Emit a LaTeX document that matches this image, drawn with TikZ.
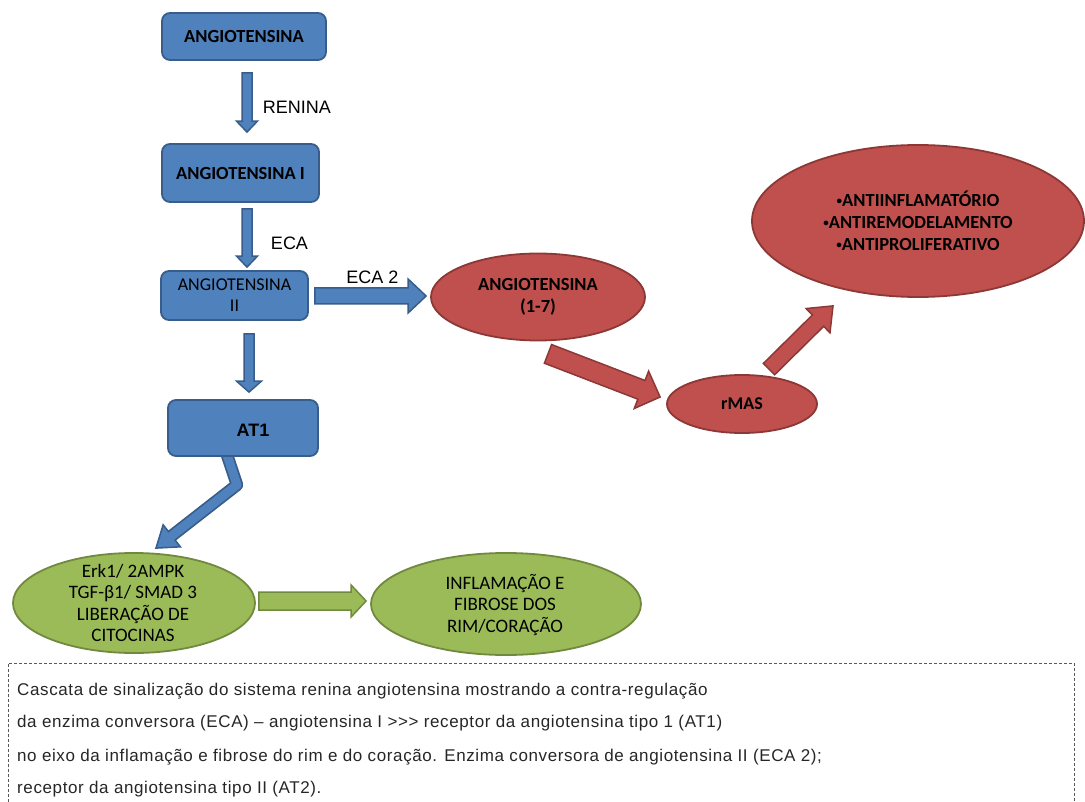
\documentclass[tikz,border=0pt]{standalone}
\usepackage{fontspec}
\setmainfont{Carlito}
\newfontfamily\arialf{Liberation Sans}
\newfontfamily\capfont[LetterSpace=3.6]{Liberation Sans}
\usetikzlibrary{calc,backgrounds,shapes.geometric}
\definecolor{bfill}{HTML}{4F81BD}
\definecolor{bdraw}{HTML}{385D8A}
\definecolor{rfill}{HTML}{C0504D}
\definecolor{rdraw}{HTML}{8C3836}
\definecolor{gfill}{HTML}{9BBB59}
\definecolor{gdraw}{HTML}{71893F}
\definecolor{dashc}{HTML}{595959}
% block arrow: style, from, to, half shaft, half head, head length
\newcommand\blockarrow[6]{%
  \path coordinate (baA) at (#2) coordinate (baB) at (#3);
  \path coordinate (baH) at ($(baB)!#6!(baA)$);
  \draw[#1] ($(baA)!#4!90:(baB)$) -- ($(baH)!#4!90:(baB)$) -- ($(baH)!#5!90:(baB)$)
    -- (baB) -- ($(baH)!#5!-90:(baB)$) -- ($(baH)!#4!-90:(baB)$) -- ($(baA)!#4!-90:(baB)$) -- cycle;
}
\newcommand\sbul{\raisebox{2.5pt}{\fontsize{11}{11}\selectfont•}}
\begin{document}
\begin{tikzpicture}[x=1pt,y=-1pt,
  bbox/.style={draw=bdraw, fill=bfill, line width=1.8pt, rounded corners=8pt, inner sep=0pt,
    text=black, align=center, font=\bfseries\fontsize{18.5}{21}\selectfont},
  rell/.style={ellipse, draw=rdraw, fill=rfill, line width=1.8pt, inner sep=0pt,
    text=black, align=center, font=\bfseries\fontsize{18.5}{22}\selectfont},
  gell/.style={ellipse, draw=gdraw, fill=gfill, line width=1.8pt, inner sep=0pt},
  gtext/.style={text=black, align=center, font=\fontsize{19}{21.5}\selectfont},
  lbl/.style={text=black, font=\arialf\fontsize{18}{21}\selectfont},
  barr/.style={draw=bdraw, fill=bfill, line width=1.5pt, line join=miter},
  rarr/.style={draw=rdraw, fill=rfill, line width=1.5pt, line join=miter},
  garr/.style={draw=gdraw, fill=gfill, line width=1.5pt, line join=miter},
  captext/.style={anchor=base west, inner sep=0pt, text=black!85, font=\capfont\fontsize{17}{20}\selectfont},
  capframe/.style={draw=dashc, line width=0.8pt, dash pattern=on 3pt off 2pt}]
\useasboundingbox (0,0) rectangle (1085,802);
\clip (0,0) rectangle (1085,802);

% blue boxes
\node[bbox, minimum width=164pt, minimum height=47pt] (b1) at (244,36.5) {ANGIOTENSINA};
\node[bbox, minimum width=157pt, minimum height=58pt] (b2) at (240.5,173) {ANGIOTENSINA I};
\node[bbox, minimum width=147pt, minimum height=49pt, font=\fontsize{18}{21}\selectfont] (b3) at (234.5,295.5) {ANGIOTENSINA\\II};
\node[bbox, minimum width=150pt, minimum height=56pt] (b4) at (243,428) {};
\node[text=black, font=\arialf\bfseries\fontsize{18}{21}\selectfont] (at1) at ($(b4.center)+(10,2)$) {AT1};

% labels
\node[lbl] (renina) at (297,107) {RENINA};
\node[lbl] (eca) at (289.5,243) {ECA};
\node[lbl] (eca2) at (372.5,277) {ECA 2};

% red ellipses
\node[rell, minimum width=214pt, minimum height=87pt] (r1) at (538,297) {ANGIOTENSINA\\(1-7)};
\node[rell, minimum width=150pt, minimum height=58pt, font=\bfseries\fontsize{18}{22}\selectfont] (r2) at (742,404) {rMAS};
\node[rell, minimum width=332pt, minimum height=152pt] (r3) at (918,221) {\sbul ANTIINFLAMATÓRIO\\\sbul ANTIREMODELAMENTO\\\sbul ANTIPROLIFERATIVO};

% green ellipses
\node[gell, minimum width=242pt, minimum height=100pt] (g1) at (134,603) {};
\node[gtext] (g1t) at ($(g1.center)+(-1,0)$) {Erk1/ 2AMPK\\TGF-β1/ SMAD 3\\LIBERAÇÃO DE\\CITOCINAS};
\node[gell, minimum width=270pt, minimum height=102pt] (g2) at (506,604) {};
\node[gtext] (g2t) at ($(g2.center)+(-1,1)$) {INFLAMAÇÃO E\\FIBROSE DOS\\RIM/CORAÇÃO};

% blue straight arrows
\blockarrow{barr}{$(b1.south)+(3,12)$}{$(b2.north)+(6.5,-11)$}{5pt}{10.5pt}{11pt}
\blockarrow{barr}{$(b2.south)+(6.5,6)$}{$(b3.north)+(12.5,-3)$}{5pt}{10.5pt}{11pt}
\blockarrow{barr}{$(b3.east)+(6,0.5)$}{$(r1.west)+(-4,-1)$}{8pt}{17pt}{18pt}
\blockarrow{barr}{$(b3.south)+(14.5,13)$}{$(b4.north)+(6,-7)$}{5pt}{12.5pt}{11pt}

% bent arrow AT1 -> g1
\coordinate (bt) at ($(b4.south)+(-18,-8)$);
\coordinate (bb) at ($(b4.south)+(-6,28)$);
\coordinate (btip) at ($(g1.north)+(22,-4)$);
\coordinate (bh) at ($(btip)!20pt!(bb)$);
\coordinate (bh2) at ($(btip)!18pt!(bb)$);
\begin{pgfonlayer}{background}
\draw[bdraw, line width=12.5pt, line join=round] (bt) -- (bb) -- (bh);
\filldraw[fill=bfill, draw=bdraw, line width=1.5pt, line join=miter]
  ($(bh)!14pt!90:(btip)$) -- (btip) -- ($(bh)!14pt!-90:(btip)$) -- cycle;
\draw[bfill, line width=9pt, line join=round] (bt) -- (bb) -- (bh2);
\end{pgfonlayer}

% red arrows
\blockarrow{rarr}{$(r1.south)+(10,12.5)$}{$(r2.west)+(-6,-7)$}{10pt}{20pt}{20pt}
\blockarrow{rarr}{$(r2.north)+(27,-5)$}{$(r3.south)+(-85,8)$}{8pt}{17pt}{21pt}

% green arrow
\blockarrow{garr}{$(g1.east)+(3,-2)$}{$(g2.west)+(-4,-3)$}{9pt}{16pt}{15pt}

% caption
\draw[capframe] (8,812) -- (8,663) -- (1074,663) -- (1074,812);
\node[captext] (c1) at (17,695) {Cascata de sinalização do sistema renina angiotensina mostrando a contra-regulação};
\node[captext] (c2) at (17,727) {da enzima conversora (ECA) – angiotensina I >>> receptor da angiotensina tipo 1 (AT1)};
\node[captext] (c3) at (17,761) {no eixo da inflamação e fibrose do rim e do coração. Enzima conversora de angiotensina II (ECA 2);};
\node[captext] (c4) at (17,793) {receptor da angiotensina tipo II (AT2).};
\end{tikzpicture}
\end{document}
